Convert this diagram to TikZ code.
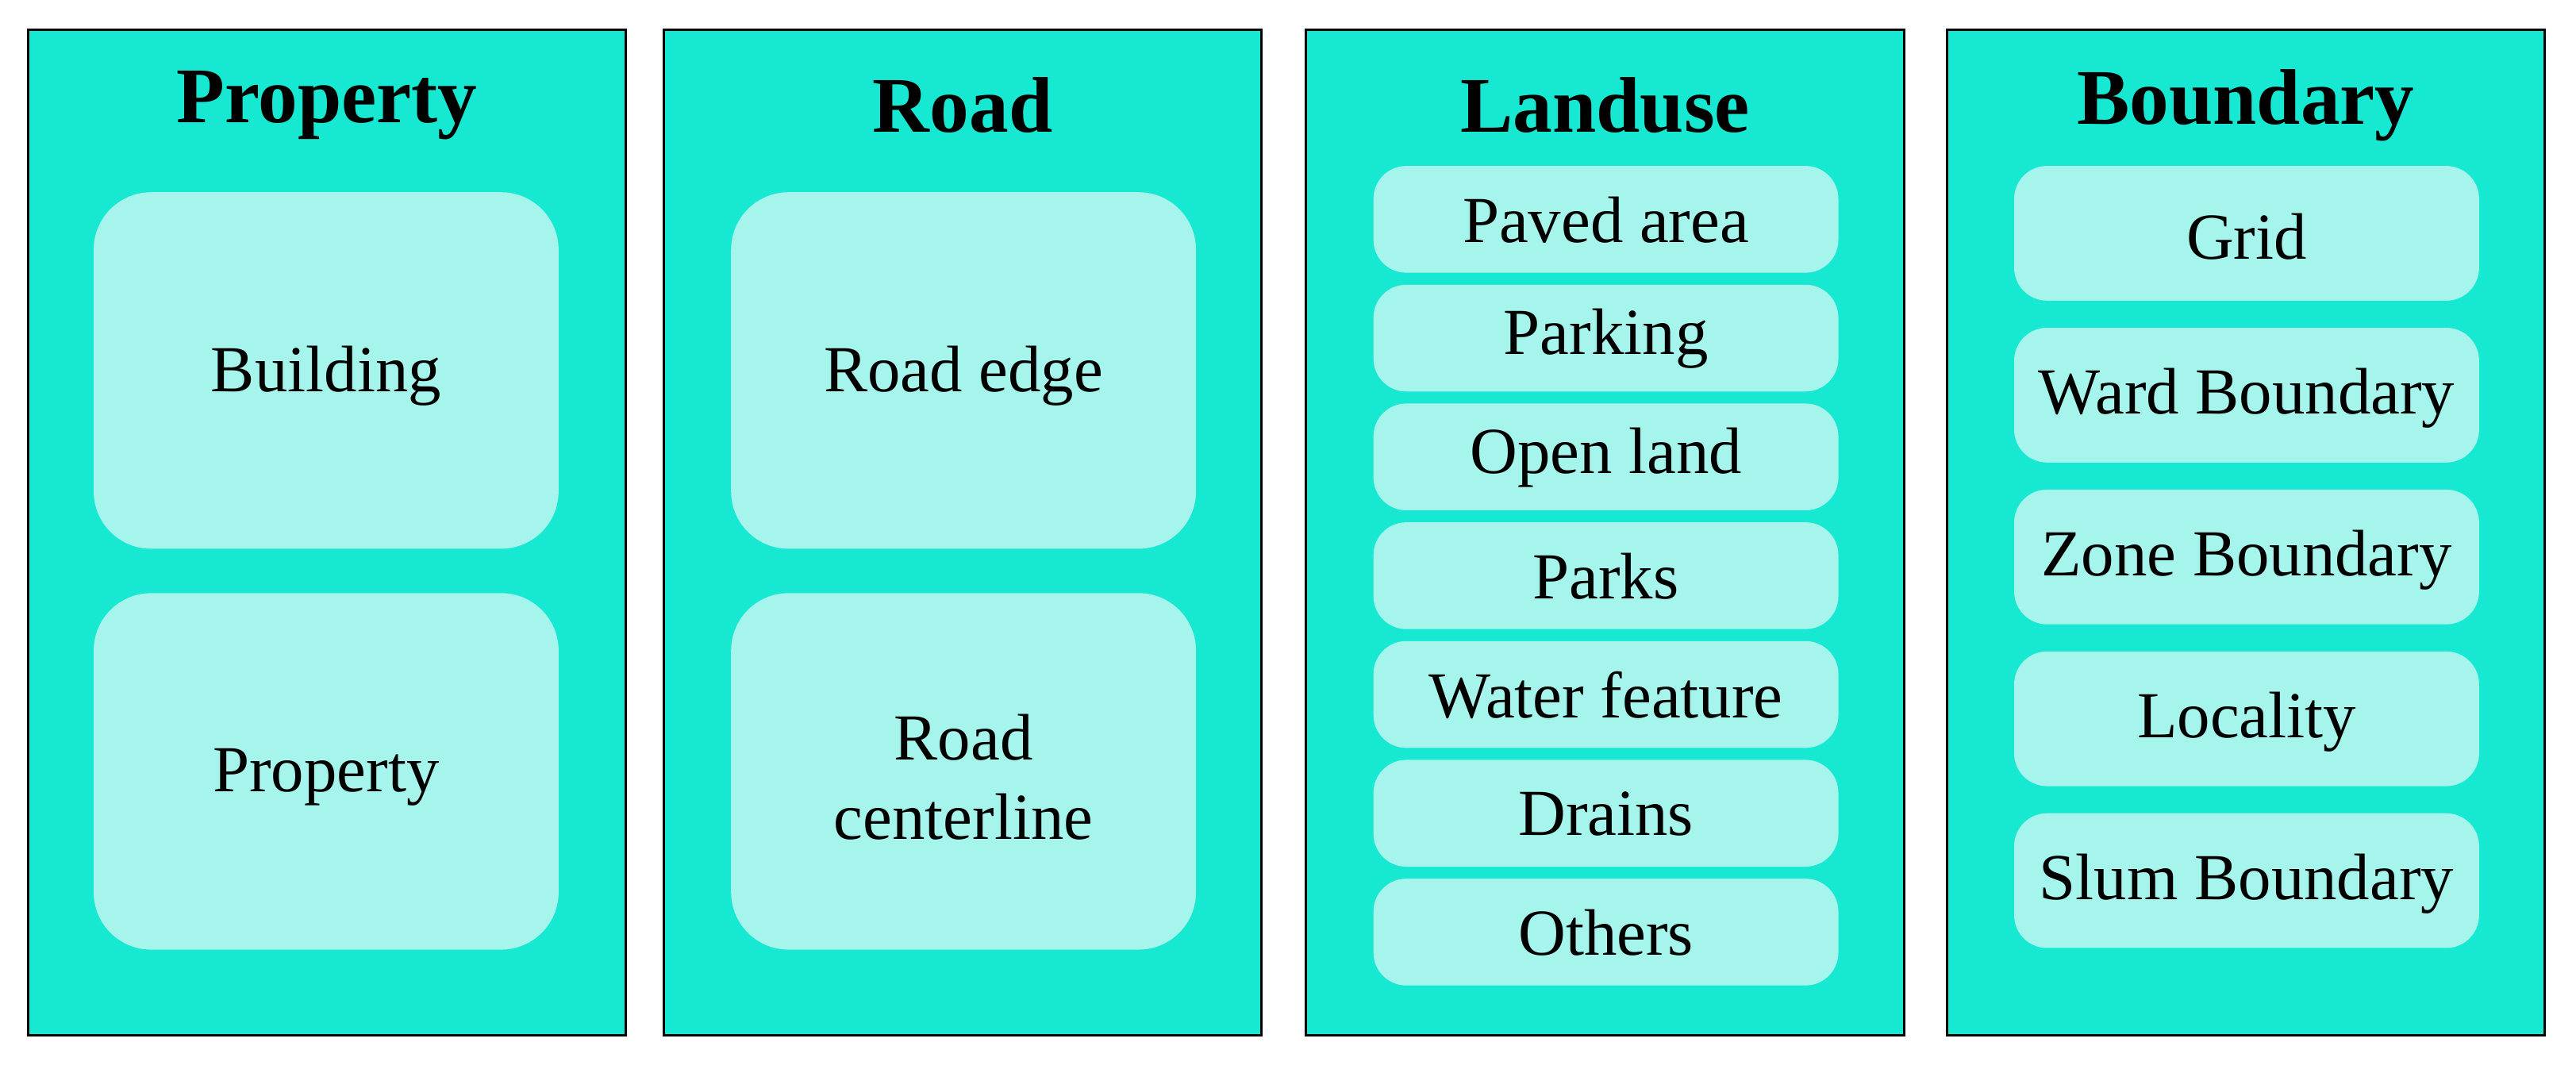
\documentclass[tikz,border=0pt]{standalone}
\usepackage{fontspec}
\setmainfont{Liberation Serif}
\definecolor{panel}{HTML}{17E8D2}
\definecolor{inner}{HTML}{A6F5EC}
\begin{document}
\begin{tikzpicture}[x=1pt,y=-1pt,
  panelbox/.style={draw=black,line width=1.5pt,fill=panel},
  ttl/.style={font=\fontsize{48}{52}\selectfont\bfseries},
  bigbox/.style={fill=inner,rounded corners=35pt},
  smallbox/.style={fill=inner,rounded corners=20pt},
  itemtext/.style={font=\fontsize{40}{48}\selectfont,align=center}]
\useasboundingbox[fill=white] (0,0) rectangle (1568,653);
\foreach \n/\x/\t in {p/17/Property,r/404/Road,l/795/Landuse,b/1185/Boundary}{
  \draw[panelbox] (\x,18) rectangle ++(364,612);
  \node[ttl] (t\n) at (\x+182,64) {\t};
}
\foreach \n/\x/\y/\t in {b1/57/117/Building,b2/57/361/Property,r1/445/117/Road edge,r2/445/361/Road\\centerline}{
  \path[bigbox] (\x,\y) rectangle ++(283,217);
  \node[itemtext] (\n) at (\x+141.5,\y+112) {\t};
}
\foreach \i/\t in {0/Paved area,1/Parking,2/Open land,3/Parks,4/Water feature,5/Drains,6/Others}{
  \path[smallbox] (836,101+72.3*\i) rectangle ++(283,65);
  \node[itemtext] (l\i) at (977.5,134+72.3*\i) {\t};
}
\foreach \i/\t in {0/Grid,1/Ward Boundary,2/Zone Boundary,3/Locality,4/Slum Boundary}{
  \path[smallbox] (1226,101+98.5*\i) rectangle ++(283,82);
  \node[itemtext] (q\i) at (1367.5,144+98.5*\i) {\t};
}
\end{tikzpicture}
\end{document}
